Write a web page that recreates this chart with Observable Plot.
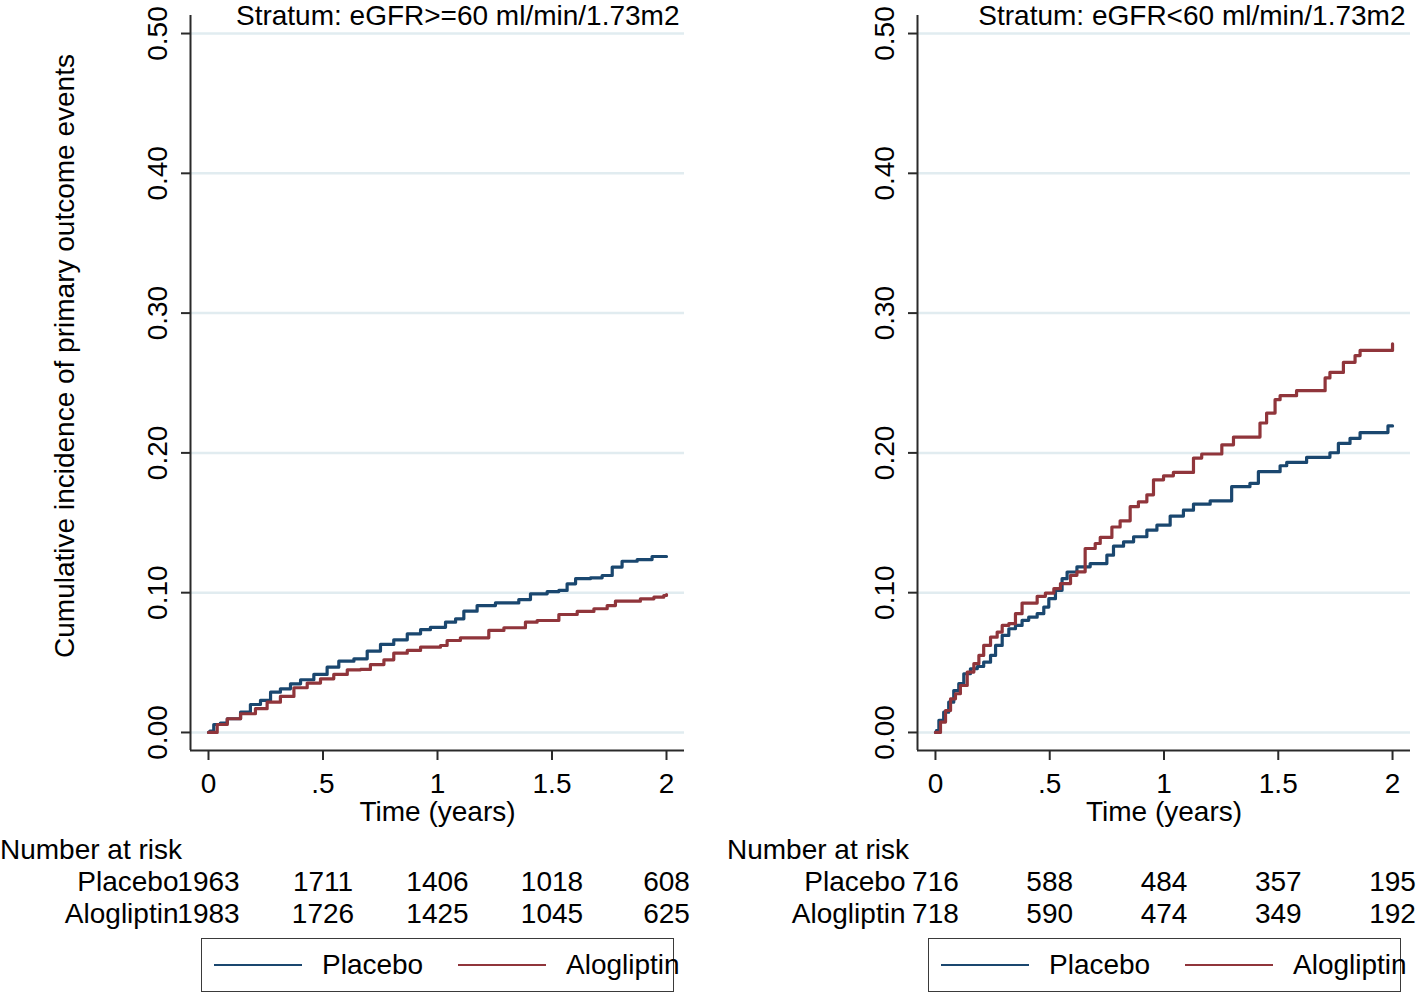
<!DOCTYPE html>
<html>
<head>
<meta charset="utf-8">
<script src="https://cdn.jsdelivr.net/npm/d3@7"></script>
<script src="https://cdn.jsdelivr.net/npm/@observablehq/plot@0.6"></script>
<style>
  html, body { margin: 0; padding: 0; background: #fff; }
  #root { position: relative; width: 1418px; height: 994px; overflow: hidden; font-family: "Liberation Sans", Arial, Helvetica, sans-serif; color: #000; }
  .abs { position: absolute; white-space: nowrap; }
</style>
</head>
<body>
<div id="root"></div>
<script>
// ---------- data ----------
const groups = ["Placebo", "Alogliptin"];
const groupColors = ["#1a476f", "#90353b"];
const timeTicks = [0, 0.5, 1, 1.5, 2];
const timeTickLabels = ["0", ".5", "1", "1.5", "2"];
const yTicks = [0, 0.1, 0.2, 0.3, 0.4, 0.5];
const strata = ["Stratum: eGFR>=60 ml/min/1.73m2", "Stratum: eGFR<60 ml/min/1.73m2"];
const yTitle = "Cumulative incidence of primary outcome events";
const xTitle = "Time (years)";
const riskTitle = "Number at risk";

// eGFR >= 60
const tHighPlacebo = [0,0.006,0.023,0.052,0.082,0.14,0.183,0.227,0.271,0.314,0.358,0.402,0.46,0.518,0.569,0.635,0.693,0.751,0.809,0.868,0.926,0.969,1.035,1.079,1.115,1.173,1.253,1.355,1.406,1.479,1.53,1.566,1.603,1.668,1.719,1.763,1.806,1.872,1.937,2.0];
const yHighPlacebo = [0,0.001,0.0057,0.0067,0.0098,0.0145,0.02,0.0229,0.0288,0.0312,0.0348,0.0377,0.0415,0.0467,0.051,0.0527,0.0582,0.063,0.0663,0.0706,0.0735,0.0752,0.0789,0.0813,0.0868,0.0908,0.0927,0.0951,0.0992,0.1008,0.1016,0.1063,0.11,0.1106,0.1123,0.1183,0.1225,0.1237,0.1259,0.1259];
const tHighAlo = [0,0.038,0.082,0.14,0.205,0.256,0.314,0.373,0.431,0.489,0.547,0.606,0.664,0.707,0.766,0.809,0.868,0.926,1.013,1.042,1.1,1.224,1.29,1.384,1.435,1.53,1.61,1.683,1.741,1.777,1.886,1.945,1.988,2.0];
const yHighAlo = [0,0.0057,0.0098,0.0134,0.017,0.0217,0.0258,0.032,0.0353,0.0384,0.0415,0.0448,0.0451,0.0486,0.052,0.0567,0.0587,0.061,0.0622,0.0658,0.0677,0.073,0.0749,0.0789,0.0801,0.0844,0.0866,0.0885,0.0908,0.0939,0.0956,0.0968,0.098,0.0986];

// eGFR < 60
const tLowPlacebo = [0,0.004,0.015,0.036,0.058,0.08,0.102,0.124,0.153,0.183,0.211,0.241,0.263,0.292,0.321,0.35,0.379,0.408,0.445,0.474,0.496,0.525,0.554,0.576,0.619,0.677,0.75,0.779,0.823,0.867,0.925,0.969,1.027,1.085,1.129,1.202,1.296,1.376,1.413,1.508,1.537,1.624,1.726,1.763,1.814,1.858,1.98,2.0];
const yLowPlacebo = [0,0.0014,0.0086,0.0145,0.0217,0.030,0.0349,0.042,0.0456,0.0472,0.0503,0.0551,0.0623,0.0694,0.0742,0.0766,0.0802,0.0825,0.085,0.0897,0.0957,0.1017,0.11,0.1148,0.1185,0.1208,0.1268,0.1333,0.1364,0.14,0.1447,0.1483,0.1548,0.159,0.1633,0.1657,0.1758,0.1782,0.1866,0.1908,0.1932,0.1968,0.2001,0.2068,0.2104,0.2145,0.2193,0.2193];
const tLowAlo = [0,0.022,0.044,0.066,0.0875,0.109,0.139,0.168,0.19,0.211,0.241,0.27,0.292,0.321,0.35,0.379,0.445,0.481,0.518,0.547,0.591,0.619,0.655,0.699,0.721,0.772,0.808,0.852,0.888,0.925,0.954,0.998,1.041,1.129,1.165,1.253,1.304,1.42,1.449,1.486,1.508,1.58,1.705,1.726,1.785,1.836,1.858,2.0];
const yLowAlo = [0,0.0074,0.0157,0.0241,0.0277,0.0336,0.0432,0.0492,0.0551,0.0623,0.0682,0.0718,0.0766,0.0778,0.085,0.0926,0.0974,0.0997,0.1029,0.1065,0.1124,0.1149,0.1316,0.1352,0.1395,0.147,0.1514,0.1615,0.165,0.17,0.1807,0.1836,0.186,0.1963,0.1992,0.2058,0.2113,0.2214,0.2285,0.2381,0.2409,0.2445,0.2536,0.2576,0.2648,0.2696,0.2733,0.278];

// numbers at risk at timeTicks
const riskHighPlacebo = [1963, 1711, 1406, 1018, 608];
const riskHighAlo = [1983, 1726, 1425, 1045, 625];
const riskLowPlacebo = [716, 588, 484, 357, 195];
const riskLowAlo = [718, 590, 474, 349, 192];

// ---------- drawing ----------
const FONT = '"Liberation Sans", Arial, Helvetica, sans-serif';
const FS = 28;
const AXIS = "#2a2a2a";
const GRID = "#e1ecf0";
const xDomain = [-0.0786, 2.0786];
const yDomain = [-0.0129, 0.5129];
const root = document.getElementById("root");

function toRows(ts, ys, group) { return ts.map((t, i) => ({t, v: ys[i], group})); }

function addAbs(el, left, top) {
  el.style.position = "absolute";
  el.style.left = left + "px";
  el.style.top = top + "px";
  root.appendChild(el);
  return el;
}

function makePanel({left, width, marginRight, title, series, risks, showYTitle}) {
  const style = {fontFamily: FONT, fontSize: FS + "px", color: "#000", background: "transparent", overflow: "visible"};
  const chart = Plot.plot({
    width, height: 830,
    marginLeft: 190, marginRight, marginTop: 15, marginBottom: 80,
    style,
    x: {domain: xDomain, axis: null},
    y: {domain: yDomain, axis: null},
    color: {domain: groups, range: groupColors},
    marks: [
      Plot.gridY(yTicks, {stroke: GRID, strokeOpacity: 1, strokeWidth: 2.5}),
      Plot.ruleX([xDomain[0]], {stroke: AXIS, strokeWidth: 2}),
      Plot.ruleY([yDomain[0]], {stroke: AXIS, strokeWidth: 2}),
      Plot.axisY(yTicks, {tickSize: 9, tickPadding: 15, tickRotate: -90, tickFormat: d3.format(".2f"), stroke: AXIS, strokeWidth: 2, label: null, fontSize: FS}),
      Plot.axisX(timeTicks, {tickSize: 10, tickPadding: 13, tickFormat: d => timeTickLabels[timeTicks.indexOf(d)], stroke: AXIS, strokeWidth: 2, label: null, fontSize: FS}),
      Plot.line(series, {x: "t", y: "v", z: "group", stroke: "group", curve: "step-after", strokeWidth: 3.2}),
      Plot.text([title], {frameAnchor: "top-right", textAnchor: "end", lineAnchor: "middle", dx: -5, dy: 1, fontSize: FS}),
      Plot.text([xTitle], {frameAnchor: "bottom", textAnchor: "middle", lineAnchor: "middle", dy: 62, fontSize: FS}),
      showYTitle ? Plot.text([yTitle], {frameAnchor: "left", textAnchor: "middle", lineAnchor: "middle", rotate: -90, dx: -125, dy: -27, fontSize: FS}) : null
    ]
  });
  addAbs(chart, left, 0);

  // number at risk header
  const hdr = document.createElement("div");
  hdr.className = "abs";
  hdr.textContent = riskTitle;
  hdr.style.fontSize = FS + "px";
  hdr.style.lineHeight = "30px";
  addAbs(hdr, left, 835);

  // risk table, positioned with the same x scale
  const riskRows = groups.flatMap((g, gi) => timeTicks.map((t, i) => ({t, group: g, n: risks[gi][i]})));
  const table = Plot.plot({
    width, height: 64,
    marginLeft: 190, marginRight, marginTop: 0, marginBottom: 0,
    style,
    x: {domain: xDomain, axis: null},
    y: {type: "point", domain: groups, range: [16, 48], padding: 0, axis: null},
    marks: [
      Plot.text(riskRows, {x: "t", y: "group", text: d => String(d.n), fontSize: FS}),
      Plot.text(groups, {x: () => timeTicks[0], y: d => d, text: d => d, textAnchor: "end", dx: -30, fontSize: FS})
    ]
  });
  addAbs(table, left, 866);

  // legend
  const leg = document.createElement("div");
  leg.style.width = "473px";
  leg.style.height = "54px";
  leg.style.boxSizing = "border-box";
  leg.style.border = "1.5px solid #3a3a3a";
  addAbs(leg, left + 201, 938);
  const swatchLeft = [12, 256];
  const textLeft = [120, 364];
  groups.forEach((g, i) => {
    const sw = document.createElement("div");
    sw.style.position = "absolute";
    sw.style.left = swatchLeft[i] + "px";
    sw.style.top = "24.5px";
    sw.style.width = "88px";
    sw.style.height = "2.5px";
    sw.style.background = groupColors[i];
    leg.appendChild(sw);
    const tx = document.createElement("div");
    tx.style.position = "absolute";
    tx.style.left = textLeft[i] + "px";
    tx.style.top = "0px";
    tx.style.lineHeight = "52px";
    tx.style.fontSize = FS + "px";
    tx.style.whiteSpace = "nowrap";
    tx.textContent = g;
    leg.appendChild(tx);
  });
}

makePanel({
  left: 0, width: 700, marginRight: 16, title: strata[0],
  series: [...toRows(tHighPlacebo, yHighPlacebo, groups[0]), ...toRows(tHighAlo, yHighAlo, groups[1])],
  risks: [riskHighPlacebo, riskHighAlo], showYTitle: true
});
makePanel({
  left: 727, width: 691, marginRight: 8, title: strata[1],
  series: [...toRows(tLowPlacebo, yLowPlacebo, groups[0]), ...toRows(tLowAlo, yLowAlo, groups[1])],
  risks: [riskLowPlacebo, riskLowAlo], showYTitle: false
});
</script>
</body>
</html>
